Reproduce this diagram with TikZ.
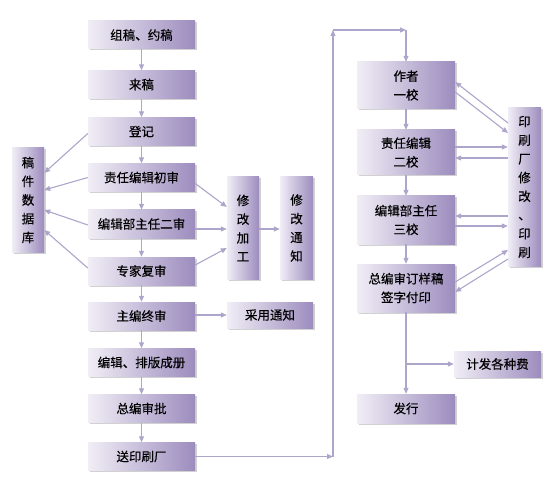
\documentclass[tikz,border=0pt]{standalone}
\usepackage{fontspec}
\newfontfamily\cjk{Noto Sans CJK SC}[FakeBold=0.4]
\usetikzlibrary{arrows.meta,shadows}
\definecolor{boxlight}{HTML}{F1EEF6}
\definecolor{boxdark}{HTML}{9C8CBE}
\definecolor{linec}{HTML}{ADA5CA}
\tikzset{
  stage/.style={inner sep=0pt, align=center, text=black,
    font=\cjk\fontsize{12.5}{18.7}\selectfont,
    left color=boxlight, right color=boxdark,
    drop shadow={shadow xshift=1.5pt, shadow yshift=-1.5pt, opacity=.3, fill=black!60}},
  wide/.style={stage, minimum width=107pt, minimum height=28pt},
  flow/.style={draw=linec, line width=1.1pt, -{Triangle[length=6pt,width=5pt]}},
  link/.style={draw=linec, line width=1.1pt}
}
\begin{document}
\begin{tikzpicture}[x=1pt,y=-1pt]
\useasboundingbox (0,0) rectangle (552,484);
% left column
\node[wide] (zugao) at (141.5,35) {组稿、约稿};
\node[wide] (laigao) at (141.5,84.5) {来稿};
\node[wide] (dengji) at (141.5,131.5) {登记};
\node[wide] (chushen) at (141.5,177.5) {责任编辑初审};
\node[wide] (ershen) at (141.5,224) {编辑部主任二审};
\node[wide] (fushen) at (141.5,271) {专家复审};
\node[wide] (zhongshen) at (141.5,316) {主编终审};
\node[wide] (paiban) at (141.5,362.5) {编辑、排版成册};
\node[wide] (shenpi) at (141.5,408.5) {总编审批};
\node[wide] (songyin) at (141.5,456.5) {送印刷厂};
\node[stage, minimum width=32pt, minimum height=104pt] (db) at (28,200) {稿\\件\\数\\据\\库};
\node[stage, minimum width=32pt, minimum height=102pt] (jiagong) at (243,228) {修\\改\\加\\工};
\node[stage, minimum width=33pt, minimum height=102pt] (xiugai) at (296.5,228) {修\\改\\通\\知};
\node[stage, minimum width=86pt, minimum height=26pt] (caiyong) at (270,315) {采用通知};
% right column
\node[stage, minimum width=98pt, minimum height=47pt] (yijiao) at (406,85.5) {作者\\一校};
\node[stage, minimum width=98pt, minimum height=45pt] (erjiao) at (406,152.5) {责任编辑\\二校};
\node[stage, minimum width=98pt, minimum height=48pt] (sanjiao) at (406,220) {编辑部主任\\三校};
\node[stage, minimum width=98pt, minimum height=48pt] (fuyin) at (406,288) {总编审订样稿\\签字付印};
\node[stage, minimum width=98pt, minimum height=29pt] (faxing) at (406,408.5) {发行};
\node[stage, minimum width=87pt, minimum height=26pt] (jifei) at (497.5,364) {计发各种费};
\node[stage, minimum width=33pt, minimum height=158pt] (yinshua) at (524.5,187) {印\\刷\\厂\\修\\改\\、\\印\\刷};
% main flow
\foreach \a/\b in {zugao/laigao, laigao/dengji, dengji/chushen, chushen/ershen,
  ershen/fushen, fushen/zhongshen, zhongshen/paiban, paiban/shenpi, shenpi/songyin,
  yijiao/erjiao, erjiao/sanjiao, sanjiao/fuyin, fuyin/faxing}
  \draw[flow] (\a.south) -- (\b.north);
% to the database
\draw[flow] ([yshift=-2pt]dengji.west) -- ([yshift=27pt]db.east);
\draw[flow] (chushen.west) -- ([yshift=10pt]db.east);
\draw[flow] ([yshift=-1pt]ershen.west) -- ([yshift=-10pt]db.east);
\draw[flow] ([yshift=3pt]fushen.west) -- ([yshift=-30pt]db.east);
% revisions
\draw[flow] ([yshift=-6pt]chushen.east) -- ([yshift=21pt]jiagong.west);
\draw[flow] ([yshift=-5pt]ershen.east) -- ([yshift=-1pt]jiagong.west);
\draw[flow] ([yshift=6pt]fushen.east) -- ([yshift=-20pt]jiagong.west);
\draw[flow] ([yshift=-1pt]jiagong.east) -- ([yshift=-1pt]xiugai.west);
\draw[flow] ([yshift=1pt]zhongshen.east) -- (caiyong.west);
% to the printer
\coordinate (c1) at (333,456.5);
\coordinate (c2) at (333,30);
\coordinate (c3) at (406,30);
\draw[flow] (songyin.east) -- (c1);
\draw[flow] (c1) -- (c2);
\draw[flow] (c2) -- (c3);
\draw[flow] (c3) -- (yijiao.north);
% proofs
\draw[flow] (508,123) -- ([yshift=3.5pt]yijiao.east);
\draw[flow] ([yshift=-6.5pt]yijiao.east) -- (508,133);
\draw[flow] ([yshift=5.5pt]erjiao.east) -- ([yshift=5.5pt]erjiao.east -| yinshua.west);
\draw[flow] ([yshift=-5.5pt]erjiao.east -| yinshua.west) -- ([yshift=-5.5pt]erjiao.east);
\draw[flow] ([yshift=4pt]sanjiao.east -| yinshua.west) -- ([yshift=4pt]sanjiao.east);
\draw[flow] ([yshift=-6pt]sanjiao.east) -- ([yshift=-6pt]sanjiao.east -| yinshua.west);
\draw[flow] ([yshift=6pt]fuyin.east) -- (508,250);
\draw[flow] (508,259) -- ([yshift=-4pt]fuyin.east);
% fees
\coordinate (c4) at (406,364);
\draw[flow] (c4) -- (jifei.west);
\end{tikzpicture}
\end{document}
